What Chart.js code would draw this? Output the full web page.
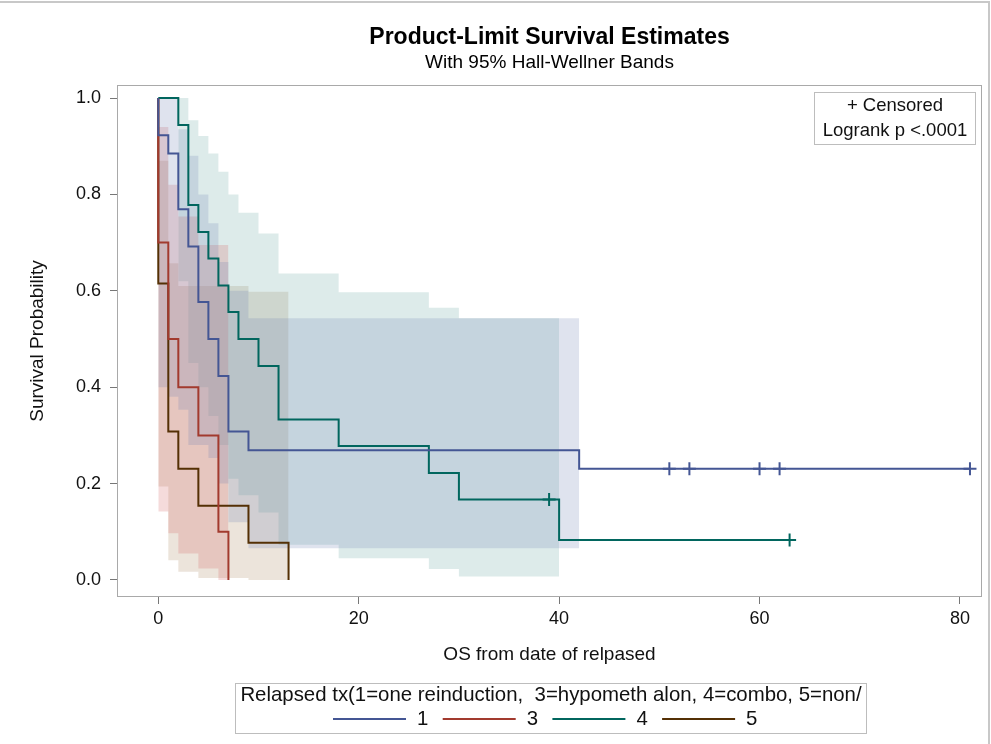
<!DOCTYPE html>
<html>
<head>
<meta charset="utf-8">
<script src="https://cdn.jsdelivr.net/npm/chart.js@4.4.1/dist/chart.umd.min.js"></script>
<style>
  html, body { margin: 0; padding: 0; background: #fff; }
  canvas { display: block; }
</style>
</head>
<body>
<canvas id="km" width="991" height="744"></canvas>
<script>
// ---- data ----
// KM steps: value holds from that time on
const g1Time = [0, 0, 1, 2, 3, 4, 5, 6, 7, 9, 42, 81];
const g1Surv = [1, 0.923, 0.885, 0.769, 0.692, 0.577, 0.5, 0.423, 0.308, 0.269, 0.231, 0.231];
const g3Time = [0, 0, 1, 2, 4, 6, 7];
const g3Surv = [1, 0.7, 0.5, 0.4, 0.3, 0.1, 0];
const g4Time = [0, 2, 3, 4, 5, 6, 7, 8, 10, 12, 18, 27, 30, 40, 63];
const g4Surv = [1, 0.944, 0.778, 0.722, 0.667, 0.611, 0.556, 0.5, 0.444, 0.333, 0.278, 0.222, 0.167, 0.083, 0.083];
const g5Time = [0, 0, 1, 2, 4, 9, 13];
const g5Surv = [1, 0.615, 0.308, 0.231, 0.154, 0.077, 0];

// censored observations
const g1CensTime = [51, 53, 60, 62, 81];
const g1CensSurv = [0.231, 0.231, 0.231, 0.231, 0.231];
const g4CensTime = [39, 63];
const g4CensSurv = [0.167, 0.083];

// Hall-Wellner bands
const b1Time = [0, 1, 2, 3, 4, 5, 6, 7, 9, 42];
const b1Upper = [1.0, 1.0, 0.935, 0.88, 0.80, 0.74, 0.66, 0.60, 0.543, 0.543];
const b1Lower = [0.40, 0.38, 0.353, 0.28, 0.28, 0.253, 0.20, 0.12, 0.066, 0.066];
const b3Time = [0, 1, 2, 4, 6, 7];
const b3Upper = [0.94, 0.82, 0.754, 0.695, 0.695, 0.695];
const b3Lower = [0.142, 0.097, 0.055, 0.024, 0, 0];
const b4Time = [2, 3, 4, 5, 6, 7, 8, 10, 12, 18, 27, 30, 40];
const b4Upper = [1.0, 0.954, 0.921, 0.885, 0.847, 0.80, 0.762, 0.719, 0.636, 0.597, 0.565, 0.543, 0.543];
const b4Lower = [0.62, 0.45, 0.40, 0.34, 0.28, 0.21, 0.176, 0.14, 0.073, 0.045, 0.023, 0.007, 0.007];
const b5Time = [0, 1, 2, 4, 9, 13];
const b5Upper = [0.87, 0.657, 0.61, 0.61, 0.598, 0.598];
const b5Lower = [0.194, 0.041, 0.017, 0.004, 0, 0];

const groupLabels = ["1", "3", "4", "5"];
const lineColors = ["#445694", "#A23A2E", "#01665E", "#543005"];
const bandRgb = ["111,126,179", "208,91,91", "102,165,160", "169,134,91"];

const xTicks = [0, 20, 40, 60, 80];
const yTicks = [0, 0.2, 0.4, 0.6, 0.8, 1.0];

const FONT = '"Liberation Sans", Arial, sans-serif';

// ---- helpers ----
function pts(xs, ys) {
    return xs.map((x, i) => ({ x: x, y: ys[i] }));
}

// "before" in chart.js = horizontal first, then drop (KM style)
function band(xs, lo, hi, rgb) {
    return [
        { data: pts(xs, hi), stepped: "before", borderWidth: 0, borderColor: "transparent",
          pointRadius: 0, fill: "+1", backgroundColor: "rgba(" + rgb + ",0.22)", order: 10 },
        { data: pts(xs, lo), stepped: "before", borderWidth: 0, borderColor: "transparent",
          pointRadius: 0, fill: false, order: 10 }
    ];
}

function curve(xs, ys, color) {
    return { data: pts(xs, ys), stepped: "before", borderColor: color, borderWidth: 2,
             pointRadius: 0, fill: false, order: 2 };
}

function censor(xs, ys, color) {
    return { type: "scatter", data: pts(xs, ys), pointStyle: "cross", pointRadius: 6.5,
             pointBorderWidth: 2, borderColor: color, backgroundColor: color, order: 1 };
}

// boxes, frame, inset and legend
const decor = {
    id: "decor",
    afterDraw(chart) {
        const ctx = chart.ctx;
        const a = chart.chartArea;
        ctx.save();

        // page border (top, right)
        ctx.strokeStyle = "#c8c8c8";
        ctx.lineWidth = 2;
        ctx.beginPath();
        ctx.moveTo(0, 2); ctx.lineTo(989, 2); ctx.lineTo(989, 744);
        ctx.stroke();

        // plot frame
        ctx.strokeStyle = "#a9a9a9";
        ctx.lineWidth = 1;
        ctx.strokeRect(a.left + 0.5, a.top + 0.5, a.right - a.left - 1, a.bottom - a.top - 1);

        // inset
        ctx.strokeStyle = "#bdbdbd";
        ctx.strokeRect(814.5, 92.5, 161, 52);
        ctx.fillStyle = "#111";
        ctx.font = "18.5px " + FONT;
        ctx.textAlign = "center";
        ctx.textBaseline = "middle";
        ctx.fillText("+ Censored", 895, 106);
        ctx.fillText("Logrank p <.0001", 895, 131);

        // legend
        ctx.strokeStyle = "#bdbdbd";
        ctx.strokeRect(235.5, 683.5, 631, 50);
        ctx.font = "20.4px " + FONT;
        ctx.fillText("Relapsed tx(1=one reinduction,  3=hypometh alon, 4=combo, 5=non/", 551, 695);
        ctx.textAlign = "left";
        groupLabels.forEach((lab, i) => {
            const x0 = 333 + i * 109.7;
            ctx.strokeStyle = lineColors[i];
            ctx.lineWidth = 2;
            ctx.beginPath();
            ctx.moveTo(x0, 719);
            ctx.lineTo(x0 + 73, 719);
            ctx.stroke();
            ctx.fillStyle = "#111";
            ctx.fillText(lab, x0 + 84, 719);
        });
        ctx.restore();
    }
};

const datasets = [].concat(
    band(b1Time, b1Lower, b1Upper, bandRgb[0]),
    band(b3Time, b3Lower, b3Upper, bandRgb[1]),
    band(b4Time, b4Lower, b4Upper, bandRgb[2]),
    band(b5Time, b5Lower, b5Upper, bandRgb[3]),
    [
        curve(g1Time, g1Surv, lineColors[0]),
        curve(g3Time, g3Surv, lineColors[1]),
        curve(g4Time, g4Surv, lineColors[2]),
        curve(g5Time, g5Surv, lineColors[3]),
        censor(g1CensTime, g1CensSurv, lineColors[0]),
        censor(g4CensTime, g4CensSurv, lineColors[2])
    ]
);

Chart.defaults.font.family = FONT;
Chart.defaults.color = "#111";

new Chart(document.getElementById("km").getContext("2d"), {
    type: "line",
    data: { datasets: datasets },
    plugins: [decor],
    options: {
        responsive: false,
        animation: false,
        layout: { padding: { left: 0, right: 9, top: 0, bottom: 0 } },
        plugins: {
            legend: { display: false },
            tooltip: { enabled: false },
            title: {
                display: true, fullSize: false,
                text: "Product-Limit Survival Estimates",
                font: { size: 23, weight: "bold" }, color: "#000",
                padding: { top: 24, bottom: 0 }
            },
            subtitle: {
                display: true, fullSize: false,
                text: "With 95% Hall-Wellner Bands",
                font: { size: 19 }, color: "#000",
                padding: { top: 0, bottom: 10.6 }
            }
        },
        scales: {
            x: {
                type: "linear", min: -4.12, max: 82.2,
                afterBuildTicks: s => { s.ticks = xTicks.map(v => ({ value: v })); },
                afterFit: s => { s.height = 147; },
                border: { display: false },
                grid: { drawOnChartArea: false, tickLength: 7, tickColor: "#777" },
                ticks: { font: { size: 18 }, color: "#111", padding: 4, maxRotation: 0 },
                title: { display: true, text: "OS from date of relpased",
                         font: { size: 19 }, color: "#111", padding: { top: 0, bottom: 78 } }
            },
            y: {
                min: -0.0353, max: 1.027,
                afterBuildTicks: s => { s.ticks = yTicks.map(v => ({ value: v })); },
                afterFit: s => { s.width = 117; },
                border: { display: false },
                grid: { drawOnChartArea: false, tickLength: 7, tickColor: "#777" },
                ticks: { font: { size: 18 }, color: "#111", padding: 9,
                         callback: v => v.toFixed(1) },
                title: { display: true, text: "Survival Probability",
                         font: { size: 19 }, color: "#111", padding: { top: 26, bottom: 0 } }
            }
        }
    }
});
</script>
</body>
</html>
